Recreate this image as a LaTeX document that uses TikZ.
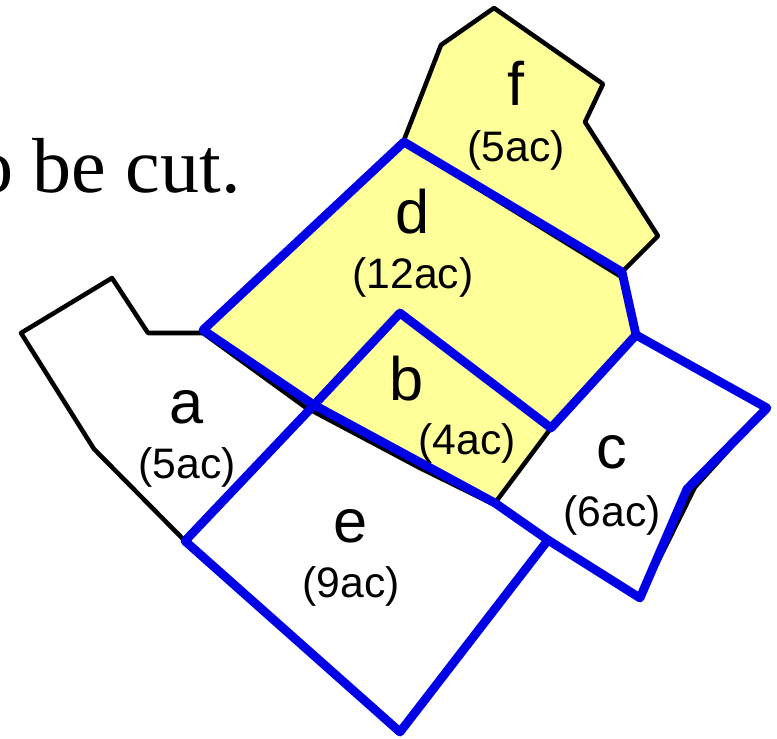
\documentclass[tikz,border=0pt]{standalone}
\usepackage{fontspec}
\setmainfont{Liberation Sans}
\newfontfamily\serifface{Liberation Serif}
\definecolor{plotyellow}{HTML}{FFFF99}
\definecolor{cutblue}{HTML}{0000E6}
\tikzset{
  plotline/.style={draw=black,line width=3.4pt,line join=round},
  cutline/.style={draw=cutblue,line width=6.6pt,line join=round,line cap=round},
  big/.style={font=\fontsize{46}{46}\selectfont,inner sep=0pt,text=black},
  area/.style={font=\fontsize{32}{32}\selectfont,inner sep=0pt,text=black}
}
\begin{document}
\begin{tikzpicture}[x=0.75pt,y=-0.75pt]
\useasboundingbox (0,0) rectangle (777,738);
\clip (0,0) rectangle (777,738);
\node[anchor=base east,inner sep=0pt,font=\serifface\fontsize{58.5}{58.5}\selectfont] (caption) at (241,192) {o be cut.};
% yellow plots
\fill[plotyellow] (404,140) -- (441,45) -- (494,8) -- (603,84) -- (585,122) -- (658,236) -- (622,272) -- (636,335) -- (551,428) -- (495,503) -- (420,465) -- (305,405) -- (203,331) -- cycle;
% black plot outlines
\draw[plotline] (203,333) -- (148,333) -- (112,278) -- (21,333) -- (94,449) -- (185,541);
\draw[plotline] (404,140) -- (441,45) -- (494,8) -- (603,84) -- (585,122) -- (658,236) -- (622,272);
\draw[plotline] (203,333) -- (305,407) -- (420,468) -- (495,505);
\draw[plotline] (404,143) -- (620,276);
\draw[plotline] (495,503) -- (551,428);
\draw[plotline] (636,333) -- (767,408) -- (695,487) -- (640,598);
% blue cut lines
\draw[cutline] (203,330) -- (404,142) -- (622,272) -- (636,335) -- (551,428) -- (400,313) -- (314,405) -- (185,541) -- (400,732) -- (548,540) -- (495,503) -- (314,405) -- cycle;
\draw[cutline] (636,335) -- (767,408) -- (687,489) -- (640,598) -- (548,540);
% labels
\node[big] (f) at (516,83) {f};
\node[area] (fa) at (516,150) {(5ac)};
\node[big] (d) at (413,212) {d};
\node[area] (da) at (413,277) {(12ac)};
\node[big] (b) at (407,379) {b};
\node[area] (ba) at (467,443) {(4ac)};
\node[big] (a) at (187,407) {a};
\node[area] (aa) at (187,467) {(5ac)};
\node[big] (c) at (612,452) {c};
\node[area] (ca) at (612,515) {(6ac)};
\node[big] (e) at (351,526) {e};
\node[area] (ea) at (351,586) {(9ac)};
\end{tikzpicture}
\end{document}
